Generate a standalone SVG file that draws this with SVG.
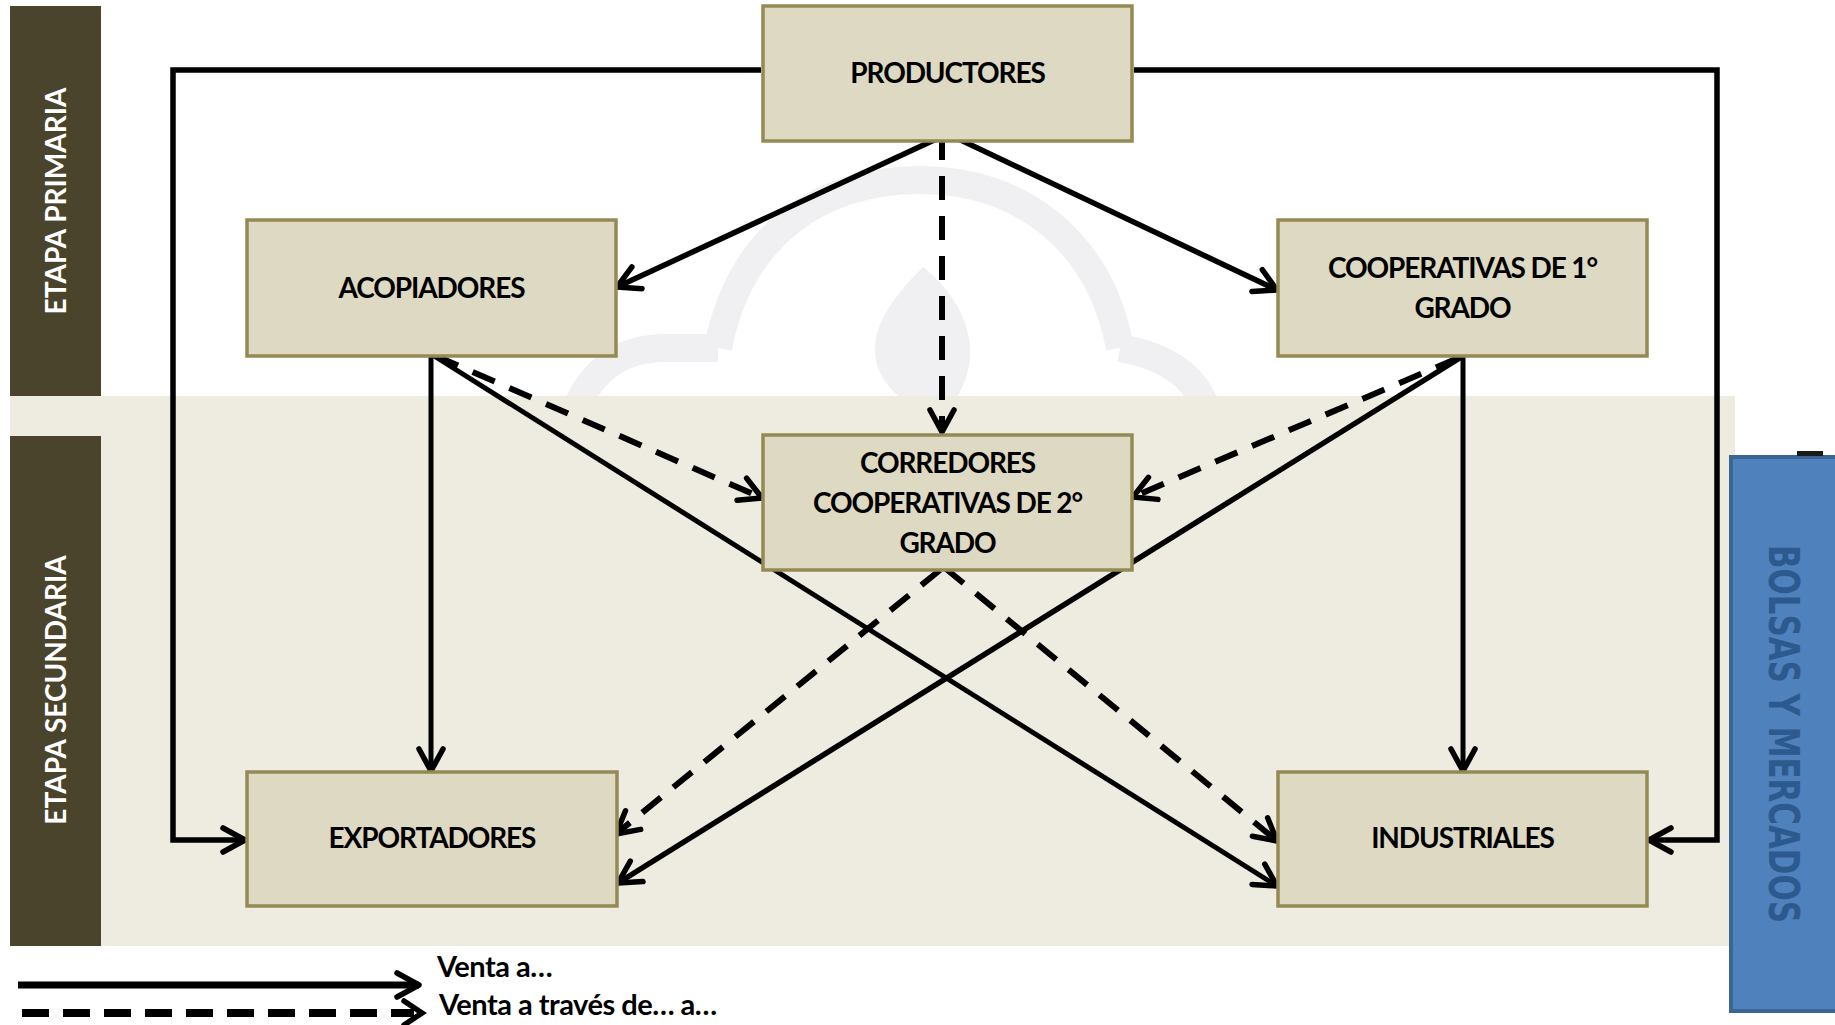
<svg xmlns="http://www.w3.org/2000/svg" width="1835" height="1025" viewBox="0 0 1835 1025">
<style>
.box{fill:#DDD9C3;stroke:#948A54;stroke-width:3.5}
.lbl{font-family:Lato,"Liberation Sans",sans-serif;font-weight:bold;font-size:28px;letter-spacing:-1.1px;fill:#000;text-anchor:middle}
.band{fill:#4A442D}
.bandtxt{font-family:Lato,"Liberation Sans",sans-serif;font-weight:bold;font-size:28px;fill:#FFFFFF;text-anchor:middle}
.sol{fill:none;stroke:#000;stroke-width:5.5;stroke-linejoin:miter}
.thin{fill:none;stroke:#000;stroke-width:5}
.dash{fill:none;stroke:#000;stroke-width:6;stroke-dasharray:24 16}
.leg{font-family:Lato,"Liberation Sans",sans-serif;font-weight:bold;font-size:29px;letter-spacing:-0.5px;fill:#000}
.wm{fill:none;stroke:#F0F0F2;stroke-width:28}
</style>
<defs>
<marker id="arr" markerUnits="userSpaceOnUse" markerWidth="60" markerHeight="60" viewBox="-30 -30 60 60" refX="0" refY="0" orient="auto">
<path d="M-22,-12 L0,0 L-22,12" fill="none" stroke="#000" stroke-width="5.5" stroke-dasharray="none" stroke-linecap="round" stroke-linejoin="round"/>
</marker>
</defs>
<rect x="0" y="0" width="1835" height="1025" fill="#FFFFFF"/>
<!-- watermark -->
<g id="watermark">
<path class="wm" d="M718,348 C740,235 820,180 920,180 C1020,180 1100,240 1120,348"/>
<path class="wm" d="M718,348 L665,348 C620,348 592,372 578,405"/>
<path class="wm" d="M1120,348 C1160,355 1192,372 1205,405"/>
<path fill="#F0F0F2" d="M923,267 C890,300 870,330 876,360 C880,380 895,395 905,400 L955,400 C965,385 972,365 970,345 C966,310 945,285 923,267 Z"/>
</g>
<!-- stage backgrounds -->
<rect x="10" y="396" width="1725" height="550" fill="#EEECE1"/>
<g id="etapa-primaria">
<rect class="band" x="10" y="6" width="91" height="390"/>
<text class="bandtxt" transform="translate(66,201) rotate(-90)">ETAPA PRIMARIA</text>
</g>
<g id="etapa-secundaria">
<rect class="band" x="10" y="436" width="91" height="510"/>
<text class="bandtxt" transform="translate(66,690) rotate(-90)">ETAPA SECUNDARIA</text>
</g>
<g id="bolsas">
<rect x="1731" y="457" width="120" height="554" fill="#4F81BD" stroke="#3A6594" stroke-width="4"/>
<rect x="1797" y="451" width="26" height="5" fill="#1A1A1A"/>
<text transform="translate(1769,734) rotate(90)" font-family="'DejaVu Sans',Verdana,sans-serif" font-weight="bold" font-size="42" fill="#2D5A8E" text-anchor="middle" textLength="378" lengthAdjust="spacingAndGlyphs">BOLSAS Y MERCADOS</text>
</g>
<!-- connectors -->
<g id="connectors">
<path class="sol" d="M761,70 L173,70 L173,840 L245,840" marker-end="url(#arr)"/>
<path class="sol" d="M1134,70 L1717,70 L1717,840 L1649,840" marker-end="url(#arr)"/>
<path class="sol" d="M945,135 L617,287" marker-end="url(#arr)"/>
<path class="sol" d="M948,134 L1277,290" marker-end="url(#arr)"/>
<path class="dash" d="M942,136 L942,432" marker-end="url(#arr)"/>
<path class="thin" d="M431,354 L431,771" marker-end="url(#arr)"/>
<path class="thin" d="M431,354 L1277,886" marker-end="url(#arr)"/>
<path class="dash" d="M436,356 L762,498" marker-end="url(#arr)"/>
<path class="thin" d="M1463,356 L1463,771" marker-end="url(#arr)"/>
<path class="sol" d="M1463,356 L618,883" marker-end="url(#arr)"/>
<path class="dash" d="M1458,358 L1133,497" marker-end="url(#arr)"/>
<path class="dash" d="M940,570 L616,834" marker-end="url(#arr)"/>
<path class="dash" d="M945,568 L1277,841" marker-end="url(#arr)"/>
</g>
<!-- nodes -->
<g id="productores">
<rect class="box" x="763" y="6" width="369" height="135"/>
<text class="lbl" x="947.5" y="83">PRODUCTORES</text>
</g>
<g id="acopiadores">
<rect class="box" x="247" y="220" width="369" height="136"/>
<text class="lbl" x="431.5" y="298">ACOPIADORES</text>
</g>
<g id="cooperativas1">
<rect class="box" x="1278" y="220" width="369" height="136"/>
<text class="lbl" x="1462.5" y="278">COOPERATIVAS DE 1°</text>
<text class="lbl" x="1462.5" y="318">GRADO</text>
</g>
<g id="corredores">
<rect class="box" x="763" y="435" width="369" height="135"/>
<text class="lbl" x="947.5" y="473">CORREDORES</text>
<text class="lbl" x="947.5" y="513">COOPERATIVAS DE 2°</text>
<text class="lbl" x="947.5" y="553">GRADO</text>
</g>
<g id="exportadores">
<rect class="box" x="247" y="772" width="370" height="134"/>
<text class="lbl" x="432" y="848">EXPORTADORES</text>
</g>
<g id="industriales">
<rect class="box" x="1278" y="772" width="369" height="134"/>
<text class="lbl" x="1462.5" y="848">INDUSTRIALES</text>
</g>
<!-- legend -->
<g id="legend">
<path d="M18,985 L419,985" fill="none" stroke="#000" stroke-width="7" marker-end="url(#arr)"/>
<path d="M22,1013 L414,1013" fill="none" stroke="#000" stroke-width="8" stroke-dasharray="27 14"/>
<path d="M404,1001 L422,1013 L404,1025" fill="none" stroke="#000" stroke-width="5.5" stroke-linecap="round"/>
<text class="leg" x="437" y="977">Venta a…</text>
<text class="leg" x="439" y="1015">Venta a través de… a…</text>
</g>
</svg>
